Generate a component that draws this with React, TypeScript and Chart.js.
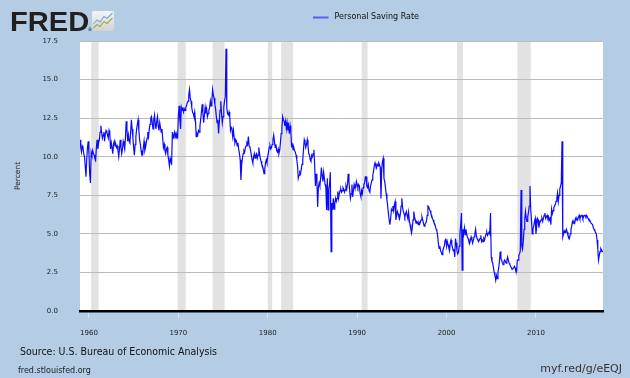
import React, { useEffect, useRef } from 'react';
import { Chart, registerables } from 'chart.js';

Chart.register(...registerables);

// Personal Saving Rate, monthly, starting January 1959 (percent)
const START_YEAR = 1959;
const rates1959_1969: number[] = [
  11.1, 10.6, 10.3, 10.7, 10.6, 10.2, 10.0, 9.4, 8.7, 9.8, 10.6, 11.0,
  10.2, 8.9, 8.3, 10.3, 10.1, 10.4, 10.2, 10.1, 9.9, 9.8, 10.6, 11.1,
  10.5, 10.9, 11.1, 11.6, 12.0, 11.6, 11.2, 11.4, 11.6, 11.0, 11.5, 11.7,
  11.6, 11.4, 11.2, 11.7, 11.5, 10.5, 10.9, 10.6, 10.2, 10.8, 11.0, 10.7,
  10.8, 10.6, 10.7, 10.4, 10.0, 10.5, 11.1, 10.6, 10.2, 10.5, 11.0, 10.8,
  10.5, 11.2, 12.3, 11.8, 11.0, 11.4, 11.0, 10.9, 11.6, 12.4, 11.8, 11.2,
  10.6, 10.1, 10.8, 11.3, 11.8, 12.1, 12.4, 11.7, 11.1, 10.8, 10.4, 10.1,
  10.1, 10.6, 11.0, 10.4, 10.6, 10.9, 11.2, 11.6, 11.3, 11.8, 12.1, 12.5,
  12.6, 12.2, 11.8, 12.4, 12.7, 12.1, 11.8, 12.3, 12.6, 12.0, 11.7, 12.2,
  11.9, 11.6, 11.8, 11.2, 10.6, 10.8, 10.4, 10.2, 10.5, 10.6, 10.1, 9.8,
  9.4, 9.9, 9.7, 9.6, 11.6, 11.2, 11.4, 11.6, 11.3, 11.5, 11.2, 11.2,
];
const rates1970_1979: number[] = [
  12.6, 13.3, 12.4, 11.8, 13.2, 13.0, 13.2, 12.9, 13.1, 13.0, 13.2, 13.3,
  13.5, 13.6, 14.0, 14.35, 13.8, 13.6, 13.2, 12.9, 12.8, 12.6, 12.9, 12.3,
  11.3, 11.5, 11.4, 11.7, 11.6, 12.0, 12.4, 12.9, 13.4, 12.8, 12.2, 12.7,
  13.2, 12.8, 13.1, 12.6, 12.8, 13.0, 13.2, 13.6, 13.3, 13.6, 14.35, 14.0,
  13.8, 13.4, 13.1, 12.6, 12.2, 12.4, 11.5, 12.3, 13.0, 13.6, 12.8, 12.2,
  12.6, 13.2, 13.6, 13.9, 17.0, 13.2, 12.8, 12.7, 12.9, 12.6, 11.7, 11.9,
  11.8, 11.3, 11.7, 11.2, 10.9, 11.1, 11.0, 10.7, 10.9, 10.5, 10.2, 9.8,
  8.5, 9.5, 9.9, 10.2, 10.4, 10.3, 10.6, 10.7, 10.9, 10.8, 11.3, 10.7,
  10.6, 10.4, 10.1, 9.8, 9.6, 10.0, 10.2, 9.9, 10.1, 10.2, 9.9, 10.1,
  10.6, 10.2, 9.9, 9.7, 9.5, 9.4, 9.2, 8.9, 9.2, 9.6, 9.8, 9.6,
];
const rates1980_1989: number[] = [
  10.0, 10.3, 10.6, 10.7, 10.5, 10.6, 10.8, 11.1, 11.4, 11.0, 10.6, 10.8,
  10.4, 10.3, 10.5, 10.2, 10.4, 10.9, 11.5, 11.9, 12.6, 12.4, 12.3, 12.0,
  12.3, 11.8, 12.2, 11.7, 12.0, 11.5, 12.0, 11.6, 10.7, 10.8, 10.45, 10.6,
  10.4, 10.3, 10.1, 9.8, 9.4, 8.6, 8.8, 9.0, 8.9, 9.2, 9.5, 9.8,
  10.5, 11.1, 10.9, 10.6, 10.8, 11.1, 10.7, 10.2, 10.1, 9.8, 9.7, 10.1,
  10.0, 10.2, 10.45, 9.4, 8.1, 8.9, 8.4, 6.75, 8.0, 8.3, 8.1, 8.6,
  9.3, 8.8, 8.4, 9.0, 8.6, 8.2, 8.0, 6.55, 8.6, 6.55, 7.9, 8.2,
  9.0, 3.85, 7.0, 6.55, 7.3, 6.6, 7.0, 7.3, 7.1, 7.3, 7.75, 7.3,
  7.6, 7.8, 7.9, 7.7, 7.8, 8.0, 7.9, 7.7, 7.85, 8.1, 7.9, 8.2,
  8.9, 8.4, 7.8, 7.3, 7.6, 8.2, 7.4, 7.8, 8.2, 8.0, 8.0, 8.4,
];
const rates1990_1999: number[] = [
  8.2, 8.0, 8.2, 8.1, 7.6, 7.4, 7.8, 7.6, 8.0, 8.2, 8.3, 8.7,
  8.7, 8.1, 8.0, 8.2, 7.8, 7.7, 8.1, 8.3, 8.5, 8.8, 9.05, 9.4,
  9.6, 9.4, 9.3, 9.5, 9.4, 9.6, 9.5, 9.3, 7.3, 9.2, 9.7, 9.9,
  8.6, 8.4, 8.0, 7.6, 7.2, 6.8, 6.3, 5.9, 5.6, 6.0, 6.6, 6.5,
  6.8, 6.5, 6.9, 7.1, 5.9, 6.2, 6.45, 6.3, 6.1, 6.0, 6.3, 6.8,
  7.3, 6.7, 6.45, 6.3, 6.1, 6.3, 6.45, 6.2, 6.0, 6.4, 5.9, 5.6,
  5.3, 5.05, 5.4, 5.9, 6.45, 6.1, 5.9, 5.7, 5.8, 5.75, 5.6, 5.75,
  5.65, 5.8, 5.9, 6.1, 5.9, 5.7, 5.5, 5.6, 5.7, 5.8, 6.2, 6.8,
  6.75, 6.6, 6.5, 6.3, 6.2, 6.0, 5.9, 5.75, 5.65, 5.5, 5.3, 5.2,
  4.9, 4.4, 4.05, 4.2, 3.9, 3.8, 3.65, 3.9, 4.1, 4.2, 4.6, 4.7,
];
const rates2000_2009: number[] = [
  4.2, 4.5, 4.3, 4.1, 3.9, 4.4, 4.6, 4.3, 4.1, 3.9, 4.0, 3.5,
  4.7, 4.4, 3.9, 3.7, 3.8, 4.2, 5.0, 5.6, 6.35, 2.65, 5.3, 5.0,
  5.4, 4.95, 5.3, 5.0, 4.8, 4.7, 4.5, 4.4, 4.6, 4.8, 4.6, 4.4,
  4.6, 4.8, 5.0, 5.3, 4.9, 4.7, 4.6, 4.5, 4.6, 4.7, 4.9, 4.5,
  4.6, 4.5, 4.7, 4.6, 4.8, 5.0, 5.1, 4.9, 5.0, 5.1, 5.0, 6.35,
  3.5, 3.2, 3.1, 2.8, 2.5, 2.3, 2.0, 2.3, 2.1, 2.5, 2.8, 3.2,
  3.85, 3.4, 3.3, 3.1, 3.0, 3.2, 3.3, 3.2, 3.1, 3.3, 3.5, 3.3,
  3.1, 3.0, 2.9, 2.8, 2.7, 2.7, 2.8, 2.9, 2.8, 2.6, 2.55, 3.3,
  3.3, 3.6, 3.7, 3.9, 7.85, 4.2, 4.0, 4.5, 5.3, 6.0, 6.45, 6.0,
  5.8, 6.1, 6.4, 6.8, 8.1, 6.6, 5.9, 5.0, 5.3, 5.5, 5.8, 6.0,
];
const rates2010_2017: number[] = [
  5.0, 5.5, 6.0, 5.9, 5.4, 5.7, 5.8, 5.9, 6.0, 5.8, 6.0, 6.2,
  6.35, 6.0, 6.1, 6.2, 6.0, 6.1, 5.9, 6.0, 5.6, 6.6, 6.3, 6.5,
  6.7, 6.8, 6.9, 7.1, 7.3, 7.65, 7.1, 7.5, 7.9, 8.1, 8.3, 11.0,
  4.8, 5.0, 5.2, 5.1, 5.2, 5.3, 5.1, 4.9, 4.8, 4.7, 5.0, 5.3,
  5.5, 5.8, 5.7, 5.8, 5.7, 6.0, 5.9, 6.0, 5.9, 6.1, 6.2, 6.0,
  6.1, 6.2, 6.2, 6.0, 6.1, 6.2, 6.2, 6.1, 6.2, 6.1, 6.0, 5.9,
  5.9, 5.8, 5.7, 5.7, 5.6, 5.4, 5.3, 5.2, 5.1, 5.0, 4.6, 4.05,
  3.3, 3.6, 3.85, 4.05, 3.95, 3.85, 3.85,
];

const xTickYears = [1960, 1970, 1980, 1990, 2000, 2010];
const yTickValues = [0, 2.5, 5, 7.5, 10, 12.5, 15, 17.5];

// NBER recessions (peak month, trough month)
const recessionStarts = ['1960-04', '1969-12', '1973-11', '1980-01', '1981-07', '1990-07', '2001-03', '2007-12'];
const recessionEnds = ['1961-02', '1970-11', '1975-03', '1980-07', '1982-11', '1991-03', '2001-11', '2009-06'];

const seriesName = 'Personal Saving Rate';
const yAxisTitle = 'Percent';
const sourceText = 'Source: U.S. Bureau of Economic Analysis';
const siteText = 'fred.stlouisfed.org';
const shortLink = 'myf.red/g/eEQJ';

const allRates = [
  ...rates1959_1969,
  ...rates1970_1979,
  ...rates1980_1989,
  ...rates1990_1999,
  ...rates2000_2009,
  ...rates2010_2017,
];
const points = allRates.map((v, i) => ({ x: START_YEAR + i / 12, y: v }));
const toYear = (s: string) => {
  const [y, m] = s.split('-').map(Number);
  return y + (m - 1) / 12;
};

const BG = '#b4cde5';

const decorPlugin = {
  id: 'fredDecor',
  beforeDraw(chart: any) {
    const { ctx, chartArea: a, width, height } = chart;
    const xs = chart.scales.x;
    ctx.save();
    ctx.fillStyle = BG;
    ctx.fillRect(0, 0, width, height);
    ctx.fillStyle = '#ffffff';
    ctx.fillRect(a.left, a.top, a.right - a.left, a.bottom - a.top);
    ctx.beginPath();
    ctx.rect(a.left, a.top, a.right - a.left, a.bottom - a.top);
    ctx.clip();
    ctx.fillStyle = '#e2e2e2';
    recessionStarts.forEach((s, i) => {
      const x0 = xs.getPixelForValue(toYear(s));
      const x1 = xs.getPixelForValue(toYear(recessionEnds[i]));
      ctx.fillRect(x0, a.top, x1 - x0, a.bottom - a.top);
    });
    ctx.restore();
  },
  afterDraw(chart: any) {
    const { ctx } = chart;
    ctx.save();
    // FRED logo
    ctx.fillStyle = '#231f20';
    ctx.save();
    ctx.translate(10, 31);
    ctx.scale(1.04, 1);
    ctx.font = "bold 28px 'Liberation Sans', Arial, sans-serif";
    ctx.textBaseline = 'alphabetic';
    ctx.textAlign = 'left';
    ctx.fillText('FRED', 0, 0);
    ctx.restore();
    ctx.font = "5px 'DejaVu Sans'";
    ctx.textAlign = 'left';
    ctx.fillText('®', 87.5, 31);
    const g = ctx.createLinearGradient(0, 11, 0, 31);
    g.addColorStop(0, '#f5f5f5');
    g.addColorStop(1, '#d2d2d2');
    ctx.fillStyle = g;
    ctx.beginPath();
    ctx.roundRect(92, 11, 22, 20, 2);
    ctx.fill();
    ctx.lineWidth = 1.1;
    ctx.strokeStyle = '#7ea8cf';
    ctx.beginPath();
    ctx.moveTo(93.5, 24); ctx.lineTo(97, 20); ctx.lineTo(100, 22); ctx.lineTo(104, 16.5); ctx.lineTo(107, 18.5); ctx.lineTo(112.5, 13);
    ctx.stroke();
    ctx.strokeStyle = '#8db24c';
    ctx.beginPath();
    ctx.moveTo(93.5, 28); ctx.lineTo(97, 24.5); ctx.lineTo(100, 26.5); ctx.lineTo(104, 21.5); ctx.lineTo(107, 23.5); ctx.lineTo(112.5, 18);
    ctx.stroke();

    // Legend
    ctx.strokeStyle = '#5a5aff';
    ctx.lineWidth = 2;
    ctx.beginPath();
    ctx.moveTo(313, 17.5);
    ctx.lineTo(328.5, 17.5);
    ctx.stroke();
    ctx.fillStyle = '#111';
    ctx.font = "8px 'DejaVu Sans'";
    ctx.textBaseline = 'middle';
    ctx.fillText(seriesName, 334.5, 17);

    // Y axis title
    ctx.save();
    ctx.translate(18.5, 176);
    ctx.rotate(-Math.PI / 2);
    ctx.textAlign = 'center';
    ctx.font = "7.5px 'DejaVu Sans'";
    ctx.fillStyle = '#222';
    ctx.fillText(yAxisTitle, 0, 0);
    ctx.restore();

    // Footer
    ctx.fillStyle = '#111';
    ctx.textAlign = 'left';
    ctx.font = "10.5px 'DejaVu Sans Condensed', 'DejaVu Sans'";
    ctx.fillText(sourceText, 20, 352);
    ctx.font = "8px 'DejaVu Sans'";
    ctx.fillStyle = '#222';
    ctx.fillText(siteText, 18, 371);
    ctx.textAlign = 'right';
    ctx.font = "11px 'DejaVu Sans'";
    ctx.fillStyle = '#333';
    ctx.fillText(shortLink, 622, 369);
    ctx.restore();
  },
};

export default function App() {
  const ref = useRef<HTMLCanvasElement>(null);
  useEffect(() => {
    document.body.style.margin = '0';
    const chart = new Chart(ref.current as HTMLCanvasElement, {
      type: 'line',
      data: {
        datasets: [
          {
            label: seriesName,
            data: points,
            borderColor: '#0a0aff',
            borderWidth: 1.2,
            pointRadius: 0,
            tension: 0,
            fill: false,
          },
        ],
      },
      options: {
        responsive: false,
        animation: false,
        devicePixelRatio: 1,
        layout: { padding: { top: 41, right: 27, left: 0, bottom: 0 } },
        plugins: { legend: { display: false }, tooltip: { enabled: false } },
        scales: {
          x: {
            type: 'linear',
            min: 1959,
            max: 2017.5,
            afterBuildTicks: (s: any) => {
              s.ticks = xTickYears.map((v) => ({ value: v }));
            },
            afterFit: (s: any) => {
              s.height = 67;
            },
            grid: {
              drawOnChartArea: false,
              drawTicks: true,
              tickLength: 7,
              color: 'rgba(255,255,255,0.45)',
            },
            border: { display: true, color: '#000', width: 2.5 },
            ticks: {
              font: { family: 'DejaVu Sans', size: 7 },
              color: '#222',
              padding: 11,
              maxRotation: 0,
              autoSkip: false,
              callback: (v: any) => String(v),
            },
          },
          y: {
            min: 0,
            max: 17.5,
            afterBuildTicks: (s: any) => {
              s.ticks = yTickValues.map((v) => ({ value: v }));
            },
            afterFit: (s: any) => {
              s.width = 80;
            },
            grid: { color: '#bbbbbb', drawTicks: false, lineWidth: 1 },
            border: { display: false },
            ticks: {
              font: { family: 'DejaVu Sans', size: 7 },
              color: '#222',
              padding: 22,
              callback: (v: any) => Number(v).toFixed(1),
            },
          },
        },
      },
      plugins: [decorPlugin],
    });
    return () => chart.destroy();
  }, []);
  return (
    <div style={{ width: 630, height: 378 }}>
      <canvas ref={ref} width={630} height={378} style={{ display: 'block', width: 630, height: 378 }} />
    </div>
  );
}
